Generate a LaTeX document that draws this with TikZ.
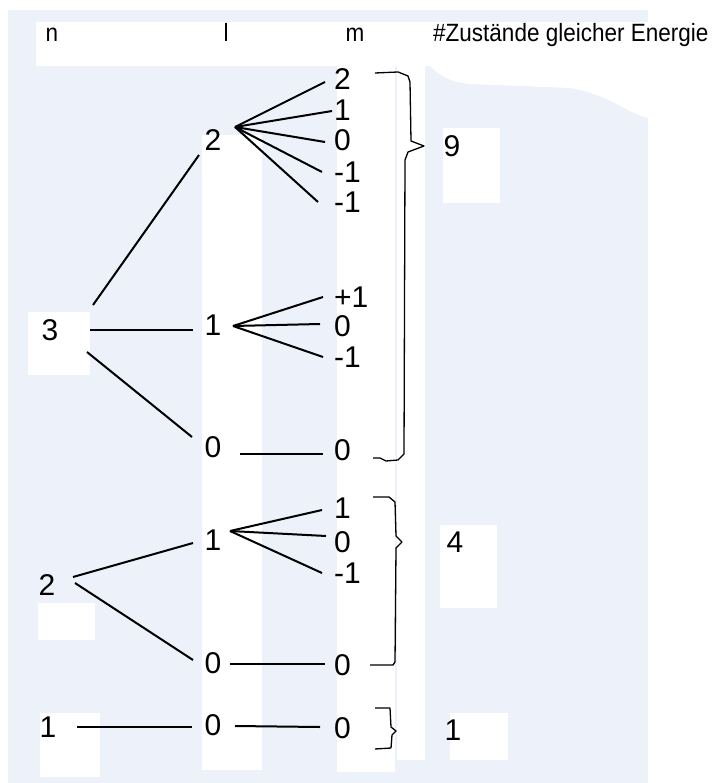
\documentclass[tikz,border=0pt]{standalone}
\usepackage{fontspec}
\setmainfont{Liberation Sans}
\newfontfamily\kopffont[FakeStretch=0.9]{Liberation Sans}
\definecolor{hintergrund}{RGB}{237,241,250}
\tikzset{
  zahl/.style={font=\fontsize{30}{32}\selectfont, inner sep=0pt},
  mzahl/.style={zahl, anchor=west},
  kopf/.style={font=\kopffont\fontsize{25}{27}\selectfont, inner sep=0pt, anchor=base},
  ast/.style={line width=2pt},
  klammer/.style={line width=1.3pt, line join=round},
}
\begin{document}
\begin{tikzpicture}[x=1pt,y=-1pt]
	\useasboundingbox (0,0) rectangle (711,783);
	
	%Hintergrund
	\fill[hintergrund] (8,10) rectangle (648,783);
	\fill[white] (36,22) rectangle (648,66);
	\fill[white] (430,66) -- (648,66) -- (648,118) .. controls (625,112) and (610,95) .. (570,88) -- (470,84) .. controls (450,82) and (440,76) .. (430,66) -- cycle;
	\fill[white] (202,135) rectangle (262,770);
	\fill[white] (337,66) rectangle (395,772);
	\fill[white] (397,66) rectangle (425,760);
	\fill[white] (28,312) rectangle (90,375);
	\fill[white] (38,603) rectangle (95,640);
	\fill[white] (40,713) rectangle (100,777);
	\fill[white] (443,128) rectangle (500,203);
	\fill[white] (440,525) rectangle (497,608);
	\fill[white] (450,713) rectangle (508,760);
	
	%Kopfzeile
	\node[kopf] (hn) at (52,42) {n};
	\node[kopf] (hl) at (226,42) {l};
	\node[kopf] (hm) at (355,42) {m};
	\node[kopf, anchor=base west] (hz) at (433,42) {\#Zustände gleicher Energie};
	
	%n
	\node[zahl] (n3) at (50,330) {3};
	\node[zahl] (n2) at (47,585) {2};
	\node[zahl] (n1) at (48,727) {1};
	
	%l
	\node[zahl] (l2) at (213,140) {2};
	\node[zahl] (l1a) at (213,325) {1};
	\node[zahl] (l0a) at (213,447) {0};
	\node[zahl] (l1b) at (213,540) {1};
	\node[zahl] (l0b) at (213,663) {0};
	\node[zahl] (l0c) at (213,725) {0};
	
	%m
	\node[mzahl] (m22) at (334,79) {2};
	\node[mzahl] (m21) at (334,110) {1};
	\node[mzahl] (m20) at (334,140) {0};
	\node[mzahl] (m2m) at (334,172) {-1};
	\node[mzahl] (m2mb) at (334,202) {-1};
	\node[mzahl] (m1p) at (334,297) {+1};
	\node[mzahl] (m10) at (334,326) {0};
	\node[mzahl] (m1m) at (334,357) {-1};
	\node[mzahl] (m00a) at (334,450) {0};
	\node[mzahl] (m1pb) at (334,508) {1};
	\node[mzahl] (m10b) at (334,542) {0};
	\node[mzahl] (m1mb) at (334,573) {-1};
	\node[mzahl] (m00b) at (334,665) {0};
	\node[mzahl] (m00c) at (334,728) {0};
	
	%Anzahl
	\node[zahl] (z9) at (452,146) {9};
	\node[zahl] (z4) at (455,542) {4};
	\node[zahl] (z1) at (453,730) {1};
	
	%Verzweigungen
	\coordinate (f2) at ([shift={(22,-13)}]l2.center);
	\coordinate (f1a) at ([shift={(20,1)}]l1a.center);
	\coordinate (f1b) at ([shift={(17,-9)}]l1b.center);
	
	% n -> l
	\draw[ast] ([shift={(43,-25)}]n3.center) -- ([shift={(-14,15)}]l2.center);
	\draw[ast] ([shift={(40,0)}]n3.center) -- ([shift={(-20,5)}]l1a.center);
	\draw[ast] ([shift={(37,22)}]n3.center) -- ([shift={(-21,-10)}]l0a.center);
	\draw[ast] ([shift={(26,-8)}]n2.center) -- ([shift={(-20,3)}]l1b.center);
	\draw[ast] ([shift={(28,-2)}]n2.center) -- ([shift={(-20,-3)}]l0b.center);
	\draw[ast] ([shift={(29,0)}]n1.center) -- ([shift={(-21,2)}]l0c.center);
	
	% l -> m
	\draw[ast] (f2) -- ([shift={(-9,3)}]m22.west);
	\draw[ast] (f2) -- ([shift={(-2,1)}]m21.west);
	\draw[ast] (f2) -- ([shift={(-9,2)}]m20.west);
	\draw[ast] (f2) -- ([shift={(-12,0)}]m2m.west);
	\draw[ast] (f2) -- ([shift={(-16,0)}]m2mb.west);
	
	\draw[ast] (f1a) -- ([shift={(-11,0)}]m1p.west);
	\draw[ast] (f1a) -- ([shift={(-14,-2)}]m10.west);
	\draw[ast] (f1a) -- ([shift={(-11,0)}]m1m.west);
	
	\draw[ast] ([shift={(27,7)}]l0a.center) -- ([shift={(-11,4)}]m00a.west);
	
	\draw[ast] (f1b) -- ([shift={(-12,2)}]m1pb.west);
	\draw[ast] (f1b) -- ([shift={(-8,-6)}]m10b.west);
	\draw[ast] (f1b) -- ([shift={(-12,0)}]m1mb.west);
	
	\draw[ast] ([shift={(17,1)}]l0b.center) -- ([shift={(-9,-1)}]m00b.west);
	\draw[ast] ([shift={(22,1)}]l0c.center) -- ([shift={(-14,-1)}]m00c.west);
	
	%Klammern
	\draw[klammer] (375,73) -- (398,72) -- (408,76) -- (410,82) -- (411,141) -- (424,146) -- (408,152) -- (405,160) -- (404,454) -- (398,460) -- (386,461) -- (380,458) -- (373,458);
	\draw[klammer] (373,497) -- (389,497) -- (395,502) -- (396,536) -- (402,542) -- (396,548) -- (395,662) -- (393,665) -- (370,665);
	\draw[klammer] (375,708) -- (390,708) -- (391,727) -- (396,731) -- (392,735) -- (391,748) -- (375,749);
\end{tikzpicture}
\end{document}
